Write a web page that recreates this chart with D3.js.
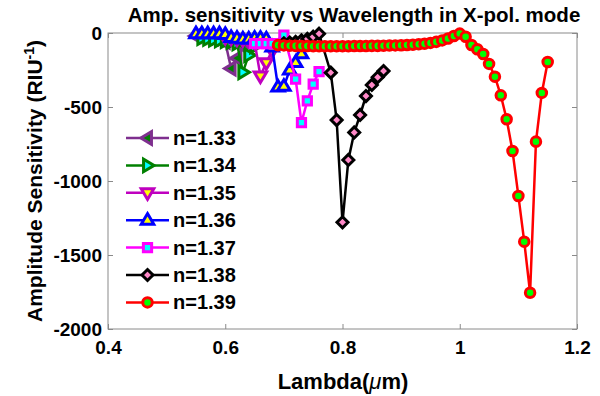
<!DOCTYPE html>
<html>
<head>
<meta charset="utf-8">
<script src="https://cdn.jsdelivr.net/npm/d3@7"></script>
<style>
body{margin:0;background:#fff}
text{font-family:"Liberation Sans",Arial,sans-serif;font-weight:bold;fill:#000}
</style>
</head>
<body>
<div class="chart"></div>
<script>
// series data (lambda in um, sensitivity in RIU^-1)
const lam133 = [0.55,0.56,0.57,0.58,0.59,0.60,0.61,0.62,0.63]
const s133 = [-20,-25,-30,-35,-40,-60,-240,-170,-90]
const lam134 = [0.56,0.57,0.58,0.59,0.60,0.61,0.62,0.63,0.64,0.65]
const s134 = [-35,-40,-45,-50,-55,-60,-70,-265,-150,-90]
const lam135 = [0.60,0.61,0.62,0.63,0.64,0.65,0.66,0.67,0.68]
const s135 = [-30,-35,-40,-45,-50,-60,-290,-200,-120]
const lam136 = [0.55,0.56,0.57,0.58,0.59,0.60,0.61,0.62,0.63,0.64,0.65,0.66,0.67,0.68,0.69,0.70,0.71,0.72,0.73]
const s136 = [-5,-5,-5,-5,-5,-10,-30,-35,-40,-40,-35,-35,-40,-95,-365,-360,-250,-200,-140]
const lam137 = [0.65,0.66,0.67,0.68,0.70,0.72,0.73,0.74,0.75,0.76]
const s137 = [-71,-71,-71,-72,-14,-311,-605,-459,-345,-261]
const lam138 = [0.70,0.71,0.72,0.73,0.74,0.75,0.76,0.78,0.79,0.80,0.81,0.82,0.83,0.84,0.85,0.86,0.87]
const s138 = [-70,-65,-60,-50,-40,-25,-5,-268,-588,-1279,-858,-672,-554,-426,-351,-299,-257]
const lam139 = [0.69,0.70,0.71,0.72,0.73,0.74,0.75,0.76,0.77,0.78,0.79,0.80,0.81,0.82,0.83,0.84,0.85,0.86,0.87,0.88,0.89,0.90,
                0.91,0.92,0.93,0.94,0.95,0.96,0.97,0.98,0.99,1.00,1.01,1.02,1.03,1.04,1.05,1.06,1.07,1.08,1.09,1.10,1.11,1.12,1.13,1.14,1.15]
const s139 = [-82,-84,-86,-87,-88,-88,-89,-89,-89,-89,-89,-89,-89,-88,-88,-88,-87,-87,-86,-85,-84,-83,
              -81,-79,-76,-72,-67,-60,-50,-37,-20,-4,-25,-81,-110,-142,-209,-295,-421,-583,-797,-1101,-1410,-1755,-734,-405,-196]
const seriesNames = ["n=1.33","n=1.34","n=1.35","n=1.36","n=1.37","n=1.38","n=1.39"]
const xTicks = [0.4,0.6,0.8,1,1.2]
const yTicks = [0,-500,-1000,-1500,-2000]

const lineColours = ["#7E2F8E","#008000","#BF00BF","#0000FF","#FF00FF","#000000","#FF0000"]
const faceColours = ["#008000","#00FFFF","#FFFF00","#FFFF00","#00FFFF","#FF88C8","#00FF00"]
const markerKinds = ["left","right","down","up","square","diamond","circle"]

const series = [[lam133,s133],[lam134,s134],[lam135,s135],[lam136,s136],[lam137,s137],[lam138,s138],[lam139,s139]]
  .map((p,i) => ({name:seriesNames[i], pts:p[0].map((l,j)=>({x:l,y:p[1][j]}))}))

const svg = d3.select(".chart").append("svg").attr("width",600).attr("height",396)
const margin = {top:33,right:23,bottom:67,left:108}
const width = 600 - margin.left - margin.right
const height = 396 - margin.top - margin.bottom

const x = d3.scaleLinear().domain([0.4,1.2]).range([margin.left, margin.left+width])
const y = d3.scaleLinear().domain([-2000,0]).range([margin.top+height, margin.top])

// marker shapes, centred on 0,0
function markerPath(kind, r) {
  const t = r*1.2
  switch(kind) {
    case "up": return `M0,${-t}L${t*0.95},${t*0.6}L${-t*0.95},${t*0.6}Z`
    case "down": return `M0,${t}L${t*0.95},${-t*0.6}L${-t*0.95},${-t*0.6}Z`
    case "left": return `M${-t},0L${t*0.6},${t*0.95}L${t*0.6},${-t*0.95}Z`
    case "right": return `M${t},0L${-t*0.6},${t*0.95}L${-t*0.6},${-t*0.95}Z`
    case "square": return `M${-r*0.75},${-r*0.75}h${r*1.5}v${r*1.5}h${-r*1.5}Z`
    case "diamond": return `M0,${-r}L${r},0L0,${r}L${-r},0Z`
    default: return d3.symbol(d3.symbolCircle, Math.PI*r*r*0.75)()
  }
}

// axes box
const axisG = svg.append("g")
svg.append("rect").attr("x",margin.left).attr("y",margin.top).attr("width",width).attr("height",height)
   .attr("fill","none").attr("stroke","#8a8a8a").attr("stroke-width",1)

const fmt = d => String(d)
axisG.append("g").attr("transform",`translate(0,${margin.top+height})`)
  .call(d3.axisBottom(x).tickValues(xTicks).tickSizeInner(-5).tickSizeOuter(0).tickPadding(12).tickFormat(fmt))
axisG.append("g").attr("transform",`translate(0,${margin.top})`)
  .call(d3.axisTop(x).tickValues(xTicks).tickSizeInner(-5).tickSizeOuter(0).tickFormat(""))
axisG.append("g").attr("transform",`translate(${margin.left},0)`)
  .call(d3.axisLeft(y).tickValues(yTicks).tickSizeInner(-5).tickSizeOuter(0).tickPadding(6).tickFormat(fmt))
axisG.append("g").attr("transform",`translate(${margin.left+width},0)`)
  .call(d3.axisRight(y).tickValues(yTicks).tickSizeInner(-5).tickSizeOuter(0).tickFormat(""))
axisG.selectAll(".domain").remove()
axisG.selectAll(".tick line").attr("stroke","#8a8a8a")
axisG.selectAll(".tick text").style("font-size","19px").style("font-family","'Liberation Sans',Arial,sans-serif")
  .style("font-weight","bold").attr("fill","#000")

// lines and markers
const line = d3.line().x(d=>x(d.x)).y(d=>y(d.y))
series.forEach((s,i) => {
  const g = svg.append("g")
  g.append("path").datum(s.pts).attr("d",line).attr("fill","none")
   .attr("stroke",lineColours[i]).attr("stroke-width",2.5)
  g.selectAll("path.mk").data(s.pts).enter().append("path").attr("class","mk")
   .attr("d",markerPath(markerKinds[i],5.5)).attr("transform",d=>`translate(${x(d.x)},${y(d.y)})`)
   .attr("fill",faceColours[i]).attr("stroke",lineColours[i]).attr("stroke-width",3)
})

// legend
const legend = svg.selectAll(".legend").data(series).enter().append("g").attr("class","legend")
  .attr("transform",(d,i)=>`translate(126,${138 + i*27.4})`)
legend.append("line").attr("x1",0).attr("x2",43).attr("stroke",(d,i)=>lineColours[i]).attr("stroke-width",2.5)
legend.append("path").attr("d",(d,i)=>markerPath(markerKinds[i],5.5)).attr("transform","translate(21.5,0)")
  .attr("fill",(d,i)=>faceColours[i]).attr("stroke",(d,i)=>lineColours[i]).attr("stroke-width",3)
legend.append("text").attr("x",47).attr("y",7).style("font-size","20px").text(d=>d.name)

// title and axis labels
svg.append("text").attr("x",354).attr("y",22).attr("text-anchor","middle").style("font-size","20.5px")
   .text("Amp. sensitivity vs Wavelength in X-pol. mode")
const xl = svg.append("text").attr("x",343).attr("y",389).attr("text-anchor","middle").style("font-size","22px")
xl.append("tspan").text("Lambda(")
xl.append("tspan").style("font-style","italic").style("font-weight","normal").text("\u03bc")
xl.append("tspan").text("m)")
const yl = svg.append("text").attr("transform","translate(42,181) rotate(-90)").attr("text-anchor","middle")
   .style("font-size","21px")
yl.append("tspan").text("Amplitude Sensitivity (RIU")
yl.append("tspan").attr("dy",-8).style("font-size","14px").text("-1")
yl.append("tspan").attr("dy",8).text(")")
</script>
</body>
</html>
